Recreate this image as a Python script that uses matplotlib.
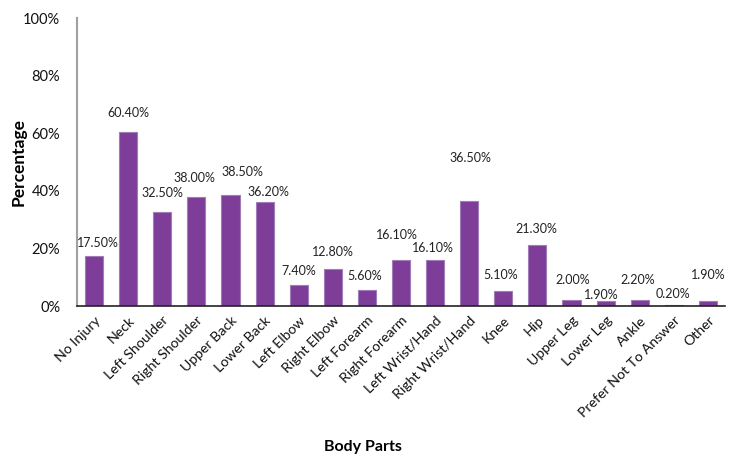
import numpy as np
import matplotlib.pyplot as plt
from matplotlib.ticker import PercentFormatter

plt.rcParams['font.family'] = ['Lato', 'DejaVu Sans']

parts = ['No Injury', 'Neck', 'Left Shoulder', 'Right Shoulder', 'Upper Back',
         'Lower Back', 'Left Elbow', 'Right Elbow', 'Left Forearm', 'Right Forearm',
         'Left Wrist/Hand', 'Right Wrist/Hand', 'Knee', 'Hip', 'Upper Leg',
         'Lower Leg', 'Ankle', 'Prefer Not To Answer', 'Other']
pct = [17.5, 60.4, 32.5, 38.0, 38.5, 36.2, 7.4, 12.8, 5.6, 16.1,
       16.1, 36.5, 5.1, 21.3, 2.0, 1.9, 2.2, 0.2, 1.9]
yticks = [0, 20, 40, 60, 80, 100]

# label offsets (pixels) as placed in the original chart
lab_dx = [4, 0, 0, -2, 12, 4, 0, 0, -2, -4, -2, 1, -3, -1, 1, -4, -2, -1, 0]
lab_dy = [13, 19, 19, 19, 23, 10, 14, 17, 14, 25, 12, 43, 16, 16, 20, 6, 20, 11, 26]

fig = plt.figure(figsize=(7.3, 4.54), dpi=100)
ax = fig.add_axes([77/730, 1 - 306/454, 648/730, 288/454])

x = np.arange(len(parts))
ax.bar(x, pct, width=0.53, color='#7e3d99', edgecolor='#a07cb8', linewidth=0.8)

for i, v in enumerate(pct):
    ax.annotate(f'{v:.2f}%', (x[i], v), xytext=(lab_dx[i], lab_dy[i]),
                textcoords='offset pixels', ha='center', va='center',
                fontsize=9, color='#222222')

ax.set_xlim(-0.5, len(parts) - 0.5)
ax.set_ylim(0, 100)
ax.set_yticks(yticks)
ax.yaxis.set_major_formatter(PercentFormatter(decimals=0))
ax.set_xticks(x)
ax.set_xticklabels(parts, rotation=45, ha='right', rotation_mode='anchor')
ax.tick_params(axis='x', length=0, pad=6, labelsize=10.2, colors='#111111')
ax.tick_params(axis='y', length=0, pad=12, labelsize=10.5, colors='#111111')

for s in ['top', 'right']:
    ax.spines[s].set_visible(False)
ax.spines['left'].set_color('#a0a0a0')
ax.spines['left'].set_linewidth(1.5)
ax.spines['bottom'].set_color('#222222')
ax.spines['bottom'].set_linewidth(1.2)

ax.set_xlabel('Body Parts', fontsize=11.5, fontweight='bold')
ax.xaxis.set_label_coords(0.441, -0.465)
ax.set_ylabel('Percentage', fontsize=12.5, fontweight='bold')
ax.yaxis.set_label_coords(-0.078, 0.5)

fig.savefig('out.png', dpi=100)
